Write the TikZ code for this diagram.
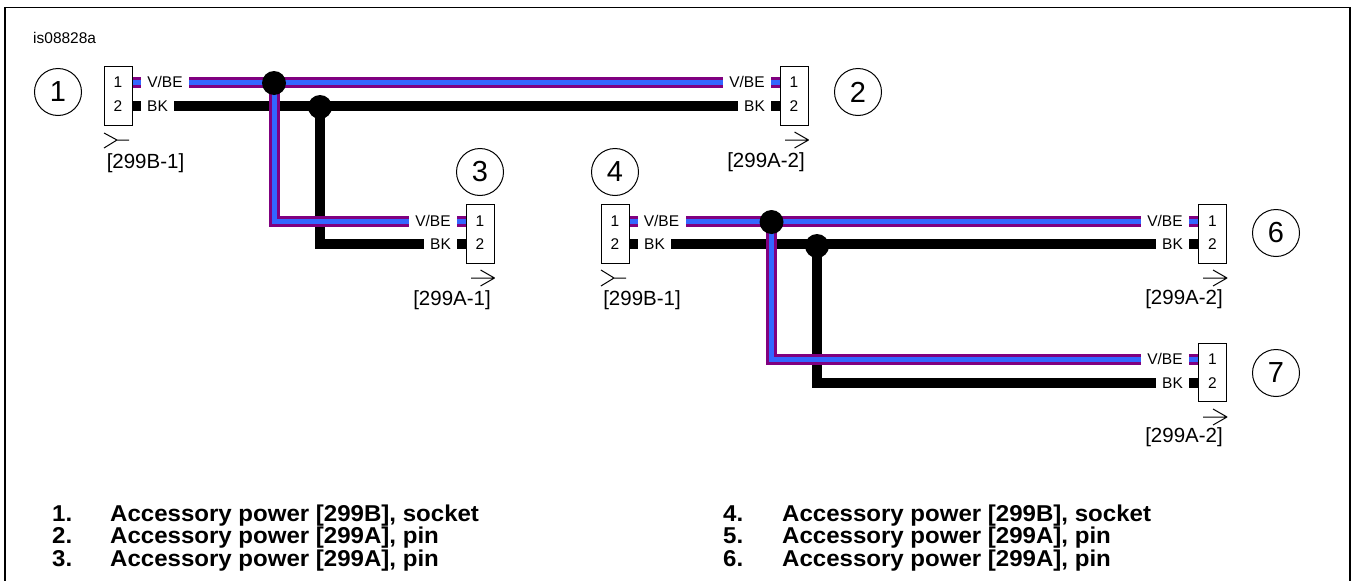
\documentclass[tikz,border=0pt]{standalone}
\usepackage{fontspec}
\setmainfont{Liberation Sans}
\newfontfamily\legendfont[FakeStretch=1.05]{Liberation Sans}
\usetikzlibrary{backgrounds}
\definecolor{wirepurple}{HTML}{800080}
\definecolor{wireblue}{HTML}{3366FF}
\tikzset{
	conbox/.style={draw, fill=white, line width=1pt, minimum width=28pt, minimum height=58.5pt, inner sep=0pt},
	pinnum/.style={inner sep=0pt, font=\fontsize{15.5}{18}\selectfont},
	vbelab/.style={fill=white, inner sep=0pt, minimum width=48pt, minimum height=13pt, font=\fontsize{15.5}{18}\selectfont},
	bklab/.style={fill=white, inner sep=0pt, minimum width=33pt, minimum height=13pt, font=\fontsize{15.5}{18}\selectfont},
	callout/.style={draw, circle, line width=1pt, minimum size=47pt, inner sep=0pt, font=\fontsize{29}{32}\selectfont},
	tag/.style={inner sep=0pt, font=\fontsize{20.5}{24}\selectfont},
	legend/.style={anchor=base west, inner sep=0pt, font=\legendfont\bfseries\fontsize{22.9}{26}\selectfont},
	junction/.style={circle, fill=black, minimum size=24pt, inner sep=0pt},
	wirevbe/.style={draw=wirepurple, line width=3pt, double=wireblue, double distance=5pt},
	wirebk/.style={draw=black, line width=10.5pt},
	pinmark/.style={line width=1pt, line join=round},
	sockmark/.style={line width=1pt}
}
\begin{document}
\begin{tikzpicture}[x=1pt, y=-1pt]
	\useasboundingbox (0,0) rectangle (1353,581);
	%Frame
	\draw[line width=1.3pt] (5,581) -- (5,7.5) -- (1350,7.5) -- (1350,581);
	\node[anchor=base west, inner sep=0pt, font=\fontsize{15.5}{18}\selectfont] (figid) at (33,43) {is08828a};
	%Callouts
	\node[callout] (num1) at (58,92) {1};
	\node[callout] (num2) at (858,92) {2};
	\node[callout] (num3) at (480,172) {3};
	\node[callout] (num4) at (615,172) {4};
	\node[callout] (num6) at (1276,233) {6};
	\node[callout] (num7) at (1276,373) {7};
	%Connector 1
	\node[conbox] (con1) at (118,96) {};
	\node[pinnum] (con1a) at (118,82) {1};
	\node[pinnum] (con1b) at (118,106) {2};
	\node[vbelab] (lab1a) at (165,82) {V/BE};
	\node[bklab] (lab1b) at (157.5,106) {BK};
	\node[tag] (tag1) at (145.5,163) {[299B-1]};
	\draw[sockmark] (104,133) -- (117,140) -- (104,148) (117,140) -- (129,140);
	%Connector 2
	\node[conbox] (con2) at (794,96) {};
	\node[pinnum] (con2a) at (794,82) {1};
	\node[pinnum] (con2b) at (794,106) {2};
	\node[vbelab] (lab2a) at (747,82) {V/BE};
	\node[bklab] (lab2b) at (754.5,106) {BK};
	\node[tag] (tag2) at (766,162) {[299A-2]};
	\coordinate (arr2) at (785,140);
	\draw[pinmark] (arr2) -- (arr2 -| con2.east) -- ++(-14,-8) ++(14,8) -- ++(-14,8);
	%Connector 3
	\node[conbox] (con3) at (480,234) {};
	\node[pinnum] (con3a) at (480,221) {1};
	\node[pinnum] (con3b) at (480,244) {2};
	\node[vbelab] (lab3a) at (433,221) {V/BE};
	\node[bklab] (lab3b) at (440.5,244) {BK};
	\node[tag] (tag3) at (452,300) {[299A-1]};
	\coordinate (arr3) at (471,278);
	\draw[pinmark] (arr3) -- (arr3 -| con3.east) -- ++(-14,-8) ++(14,8) -- ++(-14,8);
	%Connector 4
	\node[conbox] (con4) at (615,234) {};
	\node[pinnum] (con4a) at (615,221) {1};
	\node[pinnum] (con4b) at (615,244) {2};
	\node[vbelab] (lab4a) at (661.5,221) {V/BE};
	\node[bklab] (lab4b) at (654.5,244) {BK};
	\node[tag] (tag4) at (642,300.5) {[299B-1]};
	\draw[sockmark] (601,270) -- (614,278) -- (601,286) (614,278) -- (626,278);
	%Connector 6
	\node[conbox] (con6) at (1212.5,234) {};
	\node[pinnum] (con6a) at (1212.5,221) {1};
	\node[pinnum] (con6b) at (1212.5,244) {2};
	\node[vbelab] (lab6a) at (1165,221) {V/BE};
	\node[bklab] (lab6b) at (1172.5,244) {BK};
	\node[tag] (tag6) at (1184,299) {[299A-2]};
	\coordinate (arr6) at (1203,278);
	\draw[pinmark] (arr6) -- (arr6 -| con6.east) -- ++(-14,-8) ++(14,8) -- ++(-14,8);
	%Connector 7
	\node[conbox] (con7) at (1212.5,372.5) {};
	\node[pinnum] (con7a) at (1212.5,359) {1};
	\node[pinnum] (con7b) at (1212.5,383) {2};
	\node[vbelab] (lab7a) at (1165,359) {V/BE};
	\node[bklab] (lab7b) at (1172.5,383) {BK};
	\node[tag] (tag7) at (1184,437.5) {[299A-2]};
	\coordinate (arr7) at (1203,417);
	\draw[pinmark] (arr7) -- (arr7 -| con7.east) -- ++(-14,-8) ++(14,8) -- ++(-14,8);
	%Splices
	\node[junction] (spl1a) at (274,83) {};
	\node[junction] (spl1b) at (320,107) {};
	\node[junction] (spl2a) at (771.5,222) {};
	\node[junction] (spl2b) at (817,246) {};
	%Wires
	\begin{pgfonlayer}{background}
		\draw[wirebk] (con1b.center) -- (con2b.center);
		\draw[wirebk] (spl1b.center) |- (con3b.center);
		\draw[wirebk] (con4b.center) -- (con6b.center);
		\draw[wirebk] (spl2b.center) |- (con7b.center);
		\draw[wirevbe] (con1a.center) -- (con2a.center);
		\draw[wirevbe] (spl1a.center) |- (con3a.center);
		\draw[wirevbe] (con4a.center) -- (con6a.center);
		\draw[wirevbe] (spl2a.center) |- (con7a.center);
	\end{pgfonlayer}
	%Legend
	\node[legend] (leg1n) at (52,521) {1.};
	\node[legend] (leg1) at (110,521) {Accessory power [299B], socket};
	\node[legend] (leg2n) at (52,543.5) {2.};
	\node[legend] (leg2) at (110,543.5) {Accessory power [299A], pin};
	\node[legend] (leg3n) at (52,566) {3.};
	\node[legend] (leg3) at (110,566) {Accessory power [299A], pin};
	\node[legend] (leg4n) at (723,521) {4.};
	\node[legend] (leg4) at (782,521) {Accessory power [299B], socket};
	\node[legend] (leg5n) at (723,543.5) {5.};
	\node[legend] (leg5) at (782,543.5) {Accessory power [299A], pin};
	\node[legend] (leg6n) at (723,566) {6.};
	\node[legend] (leg6) at (782,566) {Accessory power [299A], pin};
\end{tikzpicture}
\end{document}
